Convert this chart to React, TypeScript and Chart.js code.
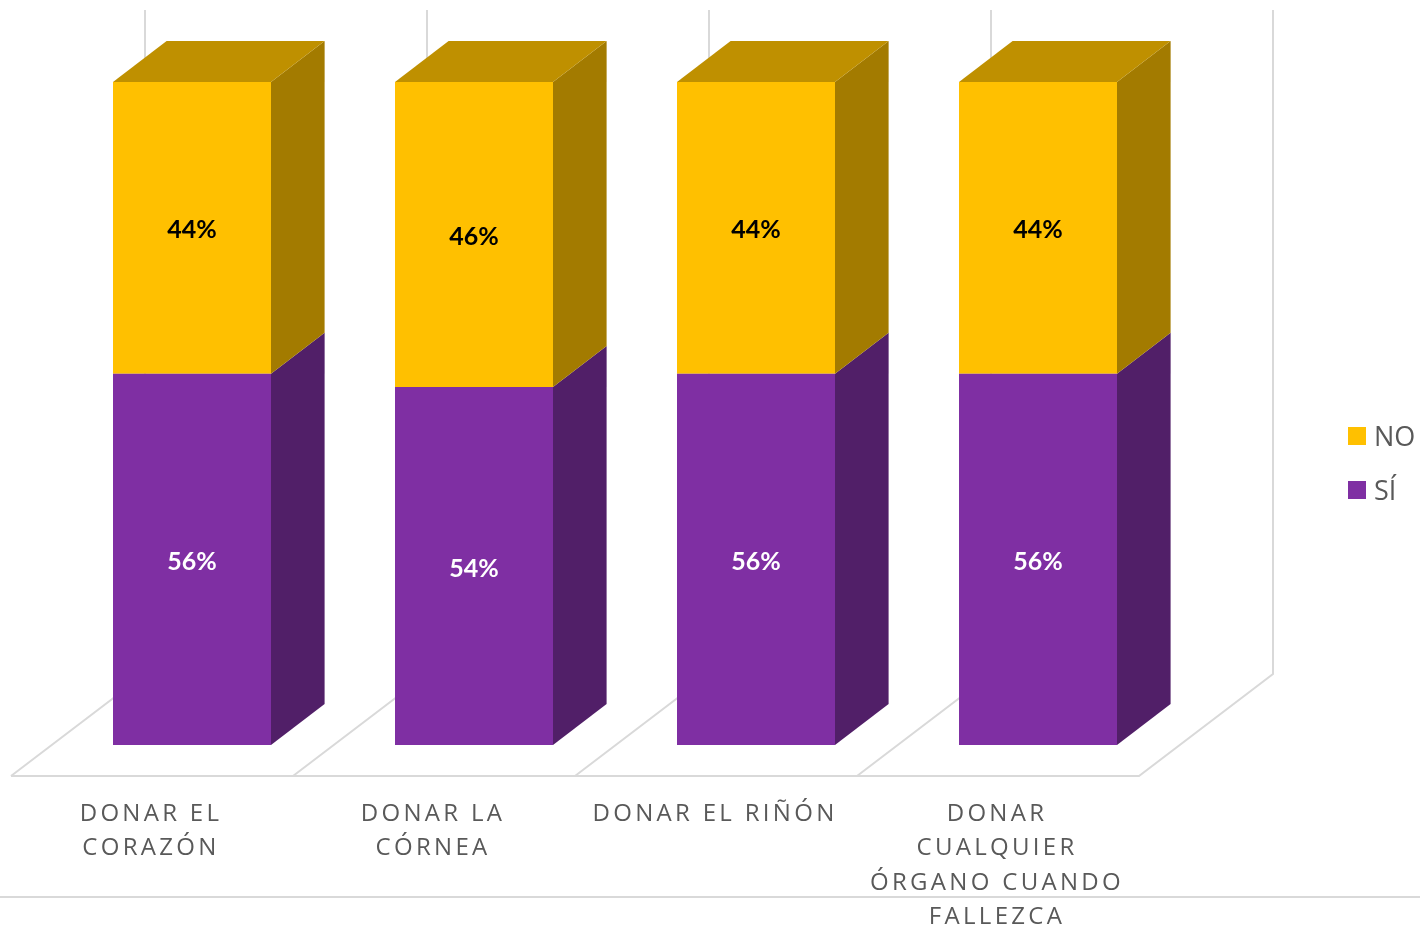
import React, { useEffect, useRef } from "react";
import { Chart, registerables } from "chart.js";

Chart.register(...registerables);

const categories: string[][] = [
  ["DONAR EL", "CORAZÓN"],
  ["DONAR LA", "CÓRNEA"],
  ["DONAR EL RIÑÓN"],
  ["DONAR", "CUALQUIER", "ÓRGANO CUANDO", "FALLEZCA"],
];
const siValues = [56, 54, 56, 56];
const noValues = [44, 46, 44, 44];

const PURPLE = "#7F2FA3";
const PURPLE_SIDE = "#511F68";
const YELLOW = "#FFC000";
const YELLOW_SIDE = "#A37B00";
const YELLOW_TOP = "#BF9000";
const GRID = "#D9D9D9";
const TEXT = "#595959";
const FONT = '"Open Sans", sans-serif';

const DX = 53.6;
const DY = 41;

function poly(ctx: CanvasRenderingContext2D, pts: number[][], fill: string) {
  ctx.fillStyle = fill;
  ctx.beginPath();
  pts.forEach(([x, y], i) => (i ? ctx.lineTo(x, y) : ctx.moveTo(x, y)));
  ctx.closePath();
  ctx.fill();
}

function line(ctx: CanvasRenderingContext2D, pts: number[][]) {
  ctx.beginPath();
  pts.forEach(([x, y], i) => (i ? ctx.lineTo(x, y) : ctx.moveTo(x, y)));
  ctx.stroke();
}

function swatch(color: string) {
  // 18px square in the upper part of a taller canvas, so the square lines up with the text
  const c = document.createElement("canvas");
  c.width = 18;
  c.height = 22;
  const g = c.getContext("2d")!;
  g.fillStyle = color;
  g.fillRect(0, 0, 18, 18);
  return c;
}

const threeD = {
  id: "threeD",
  afterLayout(chart: any) {
    const lg = chart.legend;
    if (lg) {
      lg.left = 1326.5;
      lg.right = 1420;
      lg.top = 397.5;
      lg.bottom = 925;
      lg.width = lg.right - lg.left;
      lg.height = lg.bottom - lg.top;
    }
    const xs = chart.scales.x;
    if (!xs.$spaced) {
      xs.$spaced = true;
      const orig = xs.drawLabels;
      xs.drawLabels = function (area: any) {
        const ctx: any = chart.ctx;
        ctx.save();
        ctx.letterSpacing = "3.3px";
        orig.call(this, area);
        ctx.restore();
      };
    }
  },
  beforeDatasetsDraw(chart: any) {
    const ctx: CanvasRenderingContext2D = chart.ctx;
    const xs = chart.scales.x;
    const ys = chart.scales.y;
    const floorY = ys.getPixelForValue(0) + 31;
    const step = xs.getPixelForValue(1) - xs.getPixelForValue(0);
    const wallTop = 10;
    const fdx = 134;
    const fdy = 102;
    ctx.save();
    ctx.strokeStyle = GRID;
    ctx.lineWidth = 2;
    const x0 = xs.getPixelForValue(0) - step / 2 - 40;
    categories.forEach((_, i) => {
      const fx = x0 + step * i;
      line(ctx, [
        [fx, floorY],
        [fx + fdx, floorY - fdy],
        [fx + fdx, wallTop],
      ]);
    });
    const endX = x0 + step * categories.length;
    line(ctx, [
      [x0, floorY],
      [endX, floorY],
      [endX + fdx, floorY - fdy],
      [endX + fdx, wallTop],
    ]);
    // chart frame rule under the plot
    line(ctx, [
      [0, 897],
      [chart.width, 897],
    ]);

    const sides = [PURPLE_SIDE, YELLOW_SIDE];
    chart.data.datasets.forEach((_: any, d: number) => {
      chart.getDatasetMeta(d).data.forEach((bar: any) => {
        const p = bar.getProps(["x", "y", "base", "width"], true);
        const r = p.x + p.width / 2;
        const l = p.x - p.width / 2;
        poly(
          ctx,
          [
            [r, p.base],
            [r + DX, p.base - DY],
            [r + DX, p.y - DY],
            [r, p.y],
          ],
          sides[d],
        );
        if (d === chart.data.datasets.length - 1) {
          poly(
            ctx,
            [
              [l, p.y],
              [l + DX, p.y - DY],
              [r + DX, p.y - DY],
              [r, p.y],
            ],
            YELLOW_TOP,
          );
        }
      });
    });
    ctx.restore();
  },
  afterDatasetsDraw(chart: any) {
    const ctx: CanvasRenderingContext2D = chart.ctx;
    const colors = ["#FFFFFF", "#000000"];
    ctx.save();
    ctx.font = 'bold 25px Lato, "Open Sans", sans-serif';
    ctx.textAlign = "center";
    ctx.textBaseline = "middle";
    chart.data.datasets.forEach((ds: any, d: number) => {
      ctx.fillStyle = colors[d];
      chart.getDatasetMeta(d).data.forEach((bar: any, i: number) => {
        const p = bar.getProps(["x", "y", "base"], true);
        ctx.fillText(`${ds.data[i]}%`, p.x, (p.y + p.base) / 2 + 2.5);
      });
    });
    ctx.restore();
  },
};

export default function App() {
  const ref = useRef<HTMLCanvasElement>(null);
  useEffect(() => {
    if (!ref.current) return;
    const chart = new Chart(ref.current, {
      type: "bar",
      data: {
        labels: categories,
        datasets: [
          { label: "SÍ", data: siValues, backgroundColor: PURPLE },
          { label: "NO", data: noValues, backgroundColor: YELLOW },
        ],
      },
      plugins: [threeD],
      options: {
        responsive: false,
        animation: false,
        layout: { padding: { left: 51, right: 241, top: 82, bottom: 0 } },
        datasets: { bar: { barPercentage: 158 / 282, categoryPercentage: 1 } },
        scales: {
          x: {
            stacked: true,
            grid: { display: false },
            border: { display: false },
            afterFit(scale: any) {
              scale.height = 180;
            },
            ticks: {
              autoSkip: false,
              maxRotation: 0,
              minRotation: 0,
              labelOffset: -41,
              padding: 44,
              color: TEXT,
              font: { family: FONT, size: 24, lineHeight: 34.3 / 24 },
            },
          },
          y: { stacked: true, display: false, min: 0, max: 100 },
        },
        plugins: {
          tooltip: { enabled: false },
          title: { display: false },
          legend: {
            position: "chartArea",
            align: "start",
            reverse: true,
            labels: {
              usePointStyle: true,
              pointStyleWidth: 7,
              boxHeight: 18,
              padding: 27,
              color: TEXT,
              font: { family: FONT, size: 27, lineHeight: 1 },
              generateLabels(c: any) {
                return c.data.datasets.map((ds: any, i: number) => ({
                  text: ds.label,
                  fillStyle: ds.backgroundColor,
                  strokeStyle: ds.backgroundColor,
                  pointStyle: swatch(ds.backgroundColor),
                  lineWidth: 0,
                  fontColor: TEXT,
                  hidden: false,
                  datasetIndex: i,
                }));
              },
            },
          },
        },
      },
    } as any);
    return () => chart.destroy();
  }, []);
  return (
    <canvas
      ref={ref}
      width={1420}
      height={925}
      style={{ position: "fixed", left: 0, top: 0, width: 1420, height: 925 }}
    />
  );
}
